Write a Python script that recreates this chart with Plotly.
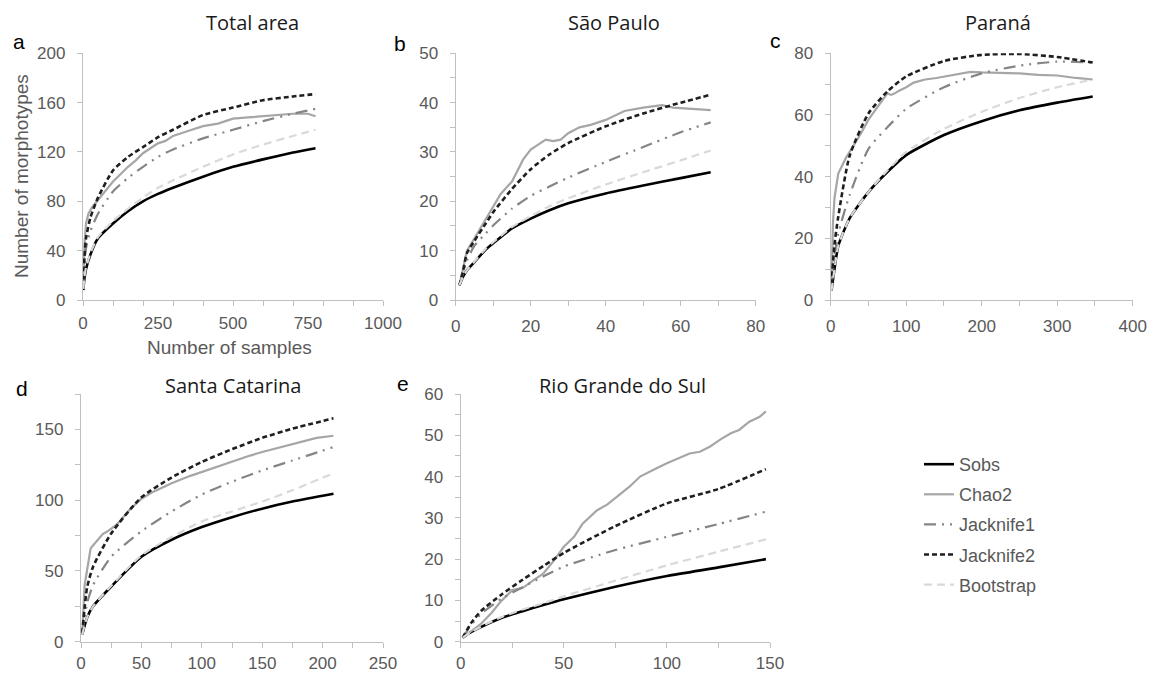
import plotly.graph_objects as go

# ---------------- data ----------------
series = ["Sobs", "Chao2", "Jacknife1", "Jacknife2", "Bootstrap"]

# Panel a: Total area
a_x = [1, 5, 10, 25, 50, 100, 150, 200, 250, 300, 400, 500, 600, 700, 775]
a_sobs = [8, 18, 25, 37, 50, 62, 72, 80, 86, 91, 100, 108, 114, 119.5, 123]
a_jack1 = [9, 30, 42, 56, 70, 88, 99, 108, 116, 122, 131, 138, 145, 151, 155]
a_jack2 = [10, 35, 50, 67, 83, 105, 116, 124, 132, 138, 150, 156, 162, 165, 167]
a_boot = [9, 19, 26, 38, 51, 64, 74, 83, 91, 97, 108, 118, 126, 133, 138]
a_chao_x = [1, 5, 10, 18, 30, 40, 60, 80, 100, 125, 150, 175, 200, 225, 250, 275,
            300, 350, 400, 450, 500, 550, 600, 650, 700, 750, 775]
a_chao = [10, 45, 62, 70, 75, 78, 84, 90, 96, 102, 108, 113, 119, 123, 127, 129,
          133, 137, 141, 143, 147, 148, 149, 150, 151, 151, 149]

# Panel b: São Paulo
b_x = [1, 2, 3, 5, 8, 10, 15, 20, 25, 30, 40, 50, 60, 68]
b_sobs = [3, 4.8, 6, 7.7, 10.2, 11.5, 14.5, 16.5, 18.2, 19.6, 21.6, 23.2, 24.7, 25.9]
b_jack1 = [3, 5.5, 8, 11, 13.5, 15.1, 18.5, 21.1, 23, 24.8, 28, 31, 34, 36]
b_jack2 = [3, 6, 9.5, 12, 15.5, 17.8, 22.5, 26.5, 29.5, 31.8, 35.2, 37.8, 40, 41.6]
b_boot = [3, 4.8, 6, 7.8, 10.4, 11.7, 14.8, 17, 19, 20.6, 23.4, 25.9, 28.3, 30.3]
b_chao_x = [1, 3, 5, 7, 9, 12, 15, 18, 20, 22, 24, 26, 28, 30, 33, 36, 40, 45, 50,
            55, 58, 62, 65, 68]
b_chao = [3, 10, 12.5, 15, 17.5, 21.5, 24, 28.5, 30.5, 31.5, 32.5, 32.2, 32.5, 33.8,
          35, 35.5, 36.5, 38.3, 39, 39.5, 39, 38.8, 38.7, 38.5]

# Panel c: Paraná
c_x = [1, 5, 10, 25, 50, 75, 100, 150, 200, 250, 300, 347]
c_sobs = [3, 10, 17.5, 26.5, 35, 41.5, 47, 53.5, 58, 61.5, 64, 66]
c_jack1 = [4, 14, 21.5, 34, 49, 56, 62, 69, 73.5, 76, 77.3, 77]
c_jack2 = [5, 18, 27, 46.7, 60.5, 67.6, 72.5, 77.5, 79.5, 79.8, 78.8, 77]
c_boot = [3, 10, 17.5, 26.5, 35, 42, 48, 55.5, 61, 65.5, 69, 71.5]
c_chao_x = [1, 3, 5, 10, 20, 30, 40, 50, 60, 70, 75, 80, 85, 90, 100, 110, 125, 140,
            150, 175, 185, 200, 225, 250, 275, 300, 325, 347]
c_chao = [5, 25, 33, 41, 46, 50, 54, 58.5, 62, 65.5, 67, 66.5, 67, 67.8, 69, 70.5,
          71.5, 72, 72.5, 73.5, 74, 73.8, 73.6, 73.5, 73, 72.8, 72, 71.5]

# Panel d: Santa Catarina
d_x = [1, 5, 10, 25, 50, 75, 100, 125, 150, 175, 209]
d_sobs = [5, 17, 25, 39, 60, 72, 81, 88, 94, 99, 104.5]
d_jack1 = [5, 27, 40, 60, 78, 92, 104, 113, 121, 128, 137.5]
d_jack2 = [6, 38, 53, 76.5, 102, 116, 127, 136, 144, 150.5, 157.8]
d_boot = [5, 17, 25, 39.5, 61, 74, 85, 92, 99, 107, 119]
d_chao_x = [1, 3, 8, 12, 18, 22, 30, 40, 50, 60, 75, 90, 100, 115, 125, 140, 150,
            165, 180, 195, 209]
d_chao = [5, 40, 66, 70, 76, 78, 83, 93, 101, 106, 112, 117, 120, 124, 127, 131.5,
          134, 137.5, 140.5, 144, 145.5]

# Panel e: Rio Grande do Sul
e_x = [1, 5, 10, 20, 30, 40, 50, 75, 100, 125, 148]
e_sobs = [1, 2.3, 3.6, 5.8, 7.4, 8.9, 10.3, 13.3, 15.9, 18, 20]
e_jack1 = [1, 4, 6.8, 10.5, 13.2, 15.8, 18.2, 22.2, 25.4, 28.5, 31.5]
e_jack2 = [1, 4.5, 7.5, 11.5, 15, 18.3, 21.5, 28, 33.5, 37, 41.8]
e_boot = [1, 2.3, 3.7, 6, 7.8, 9.3, 11, 14.8, 18.5, 21.8, 24.8]
e_chao_x = [1, 5, 10, 15, 19, 25, 30, 35, 40, 45, 50, 55, 59, 66, 71, 76, 82, 87, 90,
            95, 100, 105, 111, 116, 121, 126, 131, 135, 140, 145, 148]
e_chao = [1, 2.6, 4.4, 7, 9.5, 12.5, 13, 14.8, 16.5, 19.5, 23, 25.4, 28.5, 31.8,
          33.2, 35.2, 37.6, 40, 40.8, 42, 43.2, 44.3, 45.6, 46, 47.3, 49, 50.5, 51.3,
          53.3, 54.5, 55.8]

titles = ["Total area", "São Paulo", "Paraná", "Santa Catarina", "Rio Grande do Sul"]
letters = ["a", "b", "c", "d", "e"]

# ---------------- styling ----------------
styles = {
    "Sobs": dict(color="#000000", width=2.6, dash="solid"),
    "Chao2": dict(color="#a6a6a6", width=2.2, dash="solid"),
    "Jacknife1": dict(color="#858585", width=2.2, dash="12px,6px,2px,6px,2px,6px"),
    "Jacknife2": dict(color="#1f1f1f", width=2.6, dash="5px,3px"),
    "Bootstrap": dict(color="#d9d9d9", width=2.2, dash="8px,5px"),
}

panels = [
    dict(x=a_x, chx=a_chao_x, d=[a_sobs, a_chao, a_jack1, a_jack2, a_boot]),
    dict(x=b_x, chx=b_chao_x, d=[b_sobs, b_chao, b_jack1, b_jack2, b_boot]),
    dict(x=c_x, chx=c_chao_x, d=[c_sobs, c_chao, c_jack1, c_jack2, c_boot]),
    dict(x=d_x, chx=d_chao_x, d=[d_sobs, d_chao, d_jack1, d_jack2, d_boot]),
    dict(x=e_x, chx=e_chao_x, d=[e_sobs, e_chao, e_jack1, e_jack2, e_boot]),
]

W, H = 1153, 674
def px(v): return v / W
def py(v): return 1 - v / H

top_row_y = [py(300), py(53.3)]
bot_row_y = [py(641.7), py(394)]
xdomains = [[px(83), px(383)], [px(455.7), px(755.7)], [px(830.7), px(1132.7)],
            [px(81), px(383)], [px(460.7), px(770)]]
ydomains = [top_row_y, top_row_y, top_row_y, bot_row_y, bot_row_y]

xranges = [[0, 1000], [0, 80], [0, 400], [0, 250], [0, 150]]
xdt = [250, 20, 100, 50, 50]
xminor = [None, 10, 50, 25, 25]
xstandoff = [7, 5, 5, 1, 1]
yranges = [[0, 200], [0, 50], [0, 80], [0, 175], [0, 60]]
ydt = [40, 10, 20, 50, 10]
yminor = [None, 5, 10, 25, 5]

AX_COL = "#bfbfbf"
FONT_FAM = "Liberation Sans, Arial, sans-serif"
TICK_FONT = dict(family=FONT_FAM, size=17, color="#595959")

fig = go.Figure()
layout = dict(width=W, height=H, margin=dict(l=0, r=0, t=0, b=0, autoexpand=False),
              paper_bgcolor="white", plot_bgcolor="white", showlegend=True)

for i, p in enumerate(panels):
    xa = "x" if i == 0 else f"x{i+1}"
    ya = "y" if i == 0 else f"y{i+1}"
    for s, yv in zip(series, p["d"]):
        is_chao = (s == "Chao2")
        xv = p["chx"] if is_chao else p["x"]
        st = styles[s]
        fig.add_trace(go.Scatter(
            x=xv, y=yv, mode="lines", name=s, xaxis=xa, yaxis=ya,
            line=dict(color=st["color"], width=st["width"], dash=st["dash"],
                      shape="linear" if is_chao else "spline",
                      smoothing=None if is_chao else 0.6),
            showlegend=(i == 0), legendgroup=s, hoverinfo="skip"))
    xkey = "xaxis" if i == 0 else f"xaxis{i+1}"
    ykey = "yaxis" if i == 0 else f"yaxis{i+1}"
    xax = dict(domain=xdomains[i], range=xranges[i], anchor=ya, showgrid=False,
               zeroline=False, showline=True, linecolor=AX_COL, linewidth=1.3,
               ticks="outside", ticklen=5, tickcolor=AX_COL, tickwidth=1.3,
               tick0=0, dtick=xdt[i], tickfont=TICK_FONT, fixedrange=True,
               automargin=False, ticklabelstandoff=xstandoff[i])
    if xminor[i]:
        xax["minor"] = dict(dtick=xminor[i], tick0=0, ticks="outside", ticklen=5,
                            tickcolor=AX_COL, tickwidth=1.3, showgrid=False)
    if i == 0:
        xax["ticks"] = ""
    yax = dict(domain=ydomains[i], range=yranges[i], anchor=xa, showgrid=False,
               zeroline=False, showline=True, linecolor=AX_COL, linewidth=1.3,
               ticks="outside", ticklen=5, tickcolor=AX_COL, tickwidth=1.3,
               tick0=0, dtick=ydt[i], tickfont=TICK_FONT, fixedrange=True,
               automargin=False, ticklabelstandoff=8)
    if yminor[i]:
        yax["minor"] = dict(dtick=yminor[i], tick0=0, ticks="outside", ticklen=5,
                            tickcolor=AX_COL, tickwidth=1.3, showgrid=False)
    layout[xkey] = xax
    layout[ykey] = yax

# tick marks every 100 on the Total-area x axis (labels every 250)
fig.add_trace(go.Scatter(x=[], y=[], xaxis="x6", yaxis="y", showlegend=False, hoverinfo="skip"))
layout["xaxis6"] = dict(domain=xdomains[0], range=[0, 1000], overlaying="x", anchor="y",
                        showgrid=False, zeroline=False, showline=False, ticks="outside",
                        ticklen=5, tickcolor=AX_COL, tickwidth=1.3, tick0=0, dtick=100,
                        showticklabels=False, side="bottom", fixedrange=True,
                        automargin=False)

layout["legend"] = dict(x=px(919), y=py(446), xanchor="left", yanchor="top",
                        font=dict(family=FONT_FAM, size=18, color="#595959"),
                        tracegroupgap=3.7, bgcolor="rgba(0,0,0,0)", itemclick=False)

annotations = []
title_pos = [(253, 22.5), (614, 22.5), (998, 22.5), (233, 385), (622, 385)]
letter_pos = [(19, 41.5), (400, 43), (776, 40.5), (22, 388), (403, 383.5)]
for t, (x, y) in zip(titles, title_pos):
    annotations.append(dict(text=t, x=px(x), y=py(y), xref="paper", yref="paper",
                            xanchor="center", yanchor="middle", showarrow=False,
                            font=dict(family="Open Sans, sans-serif", size=20, color="#1a1a1a")))
for t, (x, y) in zip(letters, letter_pos):
    annotations.append(dict(text=t, x=px(x), y=py(y), xref="paper", yref="paper",
                            xanchor="center", yanchor="middle", showarrow=False,
                            font=dict(family=FONT_FAM, size=21, color="#000000")))
annotations.append(dict(text="Number of morphotypes", x=px(21), y=py(176), xref="paper", yref="paper",
                        xanchor="center", yanchor="middle", showarrow=False, textangle=-90,
                        font=dict(family=FONT_FAM, size=19, color="#595959")))
annotations.append(dict(text="Number of samples", x=px(229), y=py(348), xref="paper", yref="paper",
                        xanchor="center", yanchor="middle", showarrow=False,
                        font=dict(family=FONT_FAM, size=19, color="#595959")))
layout["annotations"] = annotations

fig.update_layout(**layout)
fig.write_html("out.html", config={"displayModeBar": False},
               post_script="document.body.style.margin='0px';")
